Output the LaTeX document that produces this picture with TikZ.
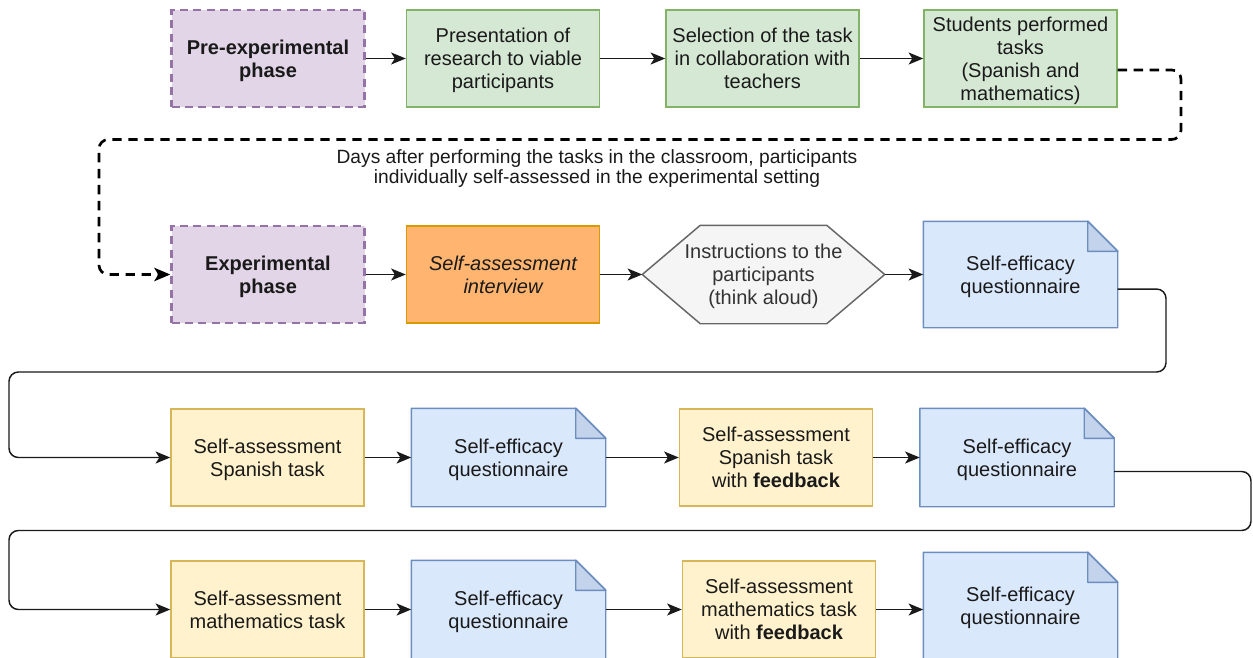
\documentclass[tikz,border=0pt]{standalone}
\usepackage{fontspec}
\setmainfont{Liberation Sans}
\usetikzlibrary{arrows.meta,backgrounds,calc}

\definecolor{phasefill}{HTML}{E1D5E7}
\definecolor{phaseline}{HTML}{9673A6}
\definecolor{greenfill}{HTML}{D5E8D4}
\definecolor{greenline}{HTML}{82B366}
\definecolor{orangefill}{HTML}{FFB570}
\definecolor{orangeline}{HTML}{D79B00}
\definecolor{greyfill}{HTML}{F5F5F5}
\definecolor{greyline}{HTML}{666666}
\definecolor{greytext}{HTML}{333333}
\definecolor{bluefill}{HTML}{DAE8FC}
\definecolor{blueline}{HTML}{6C8EBF}
\definecolor{foldfill}{HTML}{C3D3EC}
\definecolor{yellowfill}{HTML}{FFF2CC}
\definecolor{yellowline}{HTML}{D6B656}
\definecolor{inktext}{HTML}{1A1A1A}

\newcommand\boxfont{\fontsize{15}{17.25}\selectfont}
\newcommand\notefont{\fontsize{14.4}{15}\selectfont}

% folded-corner document outline behind a named node
\newcommand\paperdoc[1]{%
  \begin{scope}[on background layer]
    \filldraw[fill=bluefill,draw=blueline,line width=1.1pt,line join=round]
      (#1.north west) -- ([xshift=-22.5pt]#1.north east)
      -- ([yshift=-22.5pt]#1.north east) -- (#1.south east)
      -- (#1.south west) -- cycle;
    \filldraw[fill=foldfill,draw=blueline,line width=1.1pt,line join=round]
      ([xshift=-22.5pt]#1.north east) -- ([xshift=-22.5pt,yshift=-22.5pt]#1.north east)
      -- ([yshift=-22.5pt]#1.north east) -- cycle;
  \end{scope}}

% flat hexagon outline behind a named node
\newcommand\hexoutline[1]{%
  \begin{scope}[on background layer]
    \filldraw[fill=greyfill,draw=greyline,line width=1.1pt,line join=round]
      (#1.west) -- ([xshift=43.5pt]#1.north west) -- ([xshift=-43.5pt]#1.north east)
      -- (#1.east) -- ([xshift=-43.5pt]#1.south east) -- ([xshift=43.5pt]#1.south west)
      -- cycle;
  \end{scope}}

\begin{document}
\begin{tikzpicture}[x=0.75pt,y=-0.75pt,
  box/.style={rectangle,minimum width=144.75pt,minimum height=72.75pt,
    align=center,inner sep=2pt,line width=1.1pt,text=inktext,font=\boxfont,
    text depth=-2pt},
  phasebox/.style={box,draw=phaseline,fill=phasefill,line width=1.8pt,
    dash pattern=on 6pt off 4pt,font=\boxfont\bfseries},
  greenbox/.style={box,draw=greenline,fill=greenfill},
  orangebox/.style={box,draw=orangeline,fill=orangefill,font=\boxfont\itshape},
  yellowbox/.style={box,draw=yellowline,fill=yellowfill},
  docbox/.style={box,minimum height=72.75pt},
  hexbox/.style={box,minimum width=180.75pt,text=greytext},
  flow/.style={line width=1.1pt,draw=inktext,
    -{Stealth[length=11pt,width=9pt,inset=2.8pt]}},
  loopflow/.style={flow,rounded corners=7pt},
  loopdash/.style={line width=2pt,draw=black,dash pattern=on 7pt off 5pt,
    rounded corners=7pt,-{Stealth[length=12pt,width=10pt,inset=3pt]}},
  note/.style={align=center,text=inktext,font=\notefont,inner sep=0pt}]

\useasboundingbox (0,0) rectangle (1253,657);
\begin{scope}[on background layer]
  \fill[white] (0,0) rectangle (1253,657);
\end{scope}

% first row: preparation
\node[phasebox]  (pre)  at (268,58.5)   {Pre-experimental\\phase};
\node[greenbox]  (pres) at (503,58.5)   {Presentation of\\research to viable\\participants};
\node[greenbox]  (sel)  at (762.5,58.5) {Selection of the task\\in collaboration with\\teachers};
\node[greenbox]  (stu)  at (1020.5,58.5){Students performed\\tasks\\(Spanish and\\mathematics)};

% second row: experimental phase
\node[phasebox]  (exp)  at (268,274.5)  {Experimental\\phase};
\node[orangebox] (intv) at (503,274.5)  {Self-assessment\\interview};
\node[hexbox]    (ins)  at (763.5,274.5){Instructions to the\\participants\\(think aloud)};
\hexoutline{ins}
\node[docbox,minimum height=78.75pt] (q1) at (1020.5,274.5) {Self-efficacy\\questionnaire};
\paperdoc{q1}

% third row: Spanish task
\node[yellowbox] (spa)  at (267.5,457.5){Self-assessment\\Spanish task};
\node[docbox]    (q2)   at (508.5,457.5){Self-efficacy\\questionnaire};
\paperdoc{q2}
\node[yellowbox] (spaf) at (776,457.5)  {Self-assessment\\Spanish task\\with \textbf{feedback}};
\node[docbox]    (q3)   at (1017,457.5) {Self-efficacy\\questionnaire};
\paperdoc{q3}

% fourth row: mathematics task
\node[yellowbox] (mat)  at (267.5,609.5){Self-assessment\\mathematics task};
\node[docbox]    (q4)   at (508.5,609.5){Self-efficacy\\questionnaire};
\paperdoc{q4}
\node[yellowbox] (matf) at (779,609.5)  {Self-assessment\\mathematics task\\with \textbf{feedback}};
\node[docbox,minimum height=78.75pt] (q5) at (1020.5,605.5) {Self-efficacy\\questionnaire};
\paperdoc{q5}

% straight connectors
\draw[flow] (pre) -- (pres);
\draw[flow] (pres) -- (sel);
\draw[flow] (sel) -- (stu);
\draw[flow] (exp) -- (intv);
\draw[flow] (intv) -- (ins);
\draw[flow] (ins) -- (q1);
\draw[flow] (spa) -- (q2);
\draw[flow] (q2) -- (spaf);
\draw[flow] (spaf) -- (q3);
\draw[flow] (mat) -- (q4);
\draw[flow] (q4) -- (matf);
\draw[flow] (matf.east) -- (matf.east -| q5.west);

% dashed return from the classroom tasks to the experimental phase
\coordinate (r1) at (1181,139.5);
\coordinate (l1) at (99,139.5);
\draw[loopdash] ([yshift=-8.6pt]stu.east) -| (r1) -- (l1) |- (exp.west);
\node[note] (gap) at (597,168.5) {Days after performing the tasks in the classroom, participants\\individually self-assessed in the experimental setting};

% row-to-row returns
\coordinate (r2) at (1166,372);
\coordinate (l2) at (9,372);
\draw[loopflow] ([yshift=-10.9pt]q1.east) -| (r2) -- (l2) |- (spa.west);
\coordinate (r3) at (1251,530.5);
\coordinate (l3) at (9,530.5);
\draw[loopflow] ([yshift=-10.5pt]q3.east) -| (r3) -- (l3) |- (mat.west);

\end{tikzpicture}
\end{document}
